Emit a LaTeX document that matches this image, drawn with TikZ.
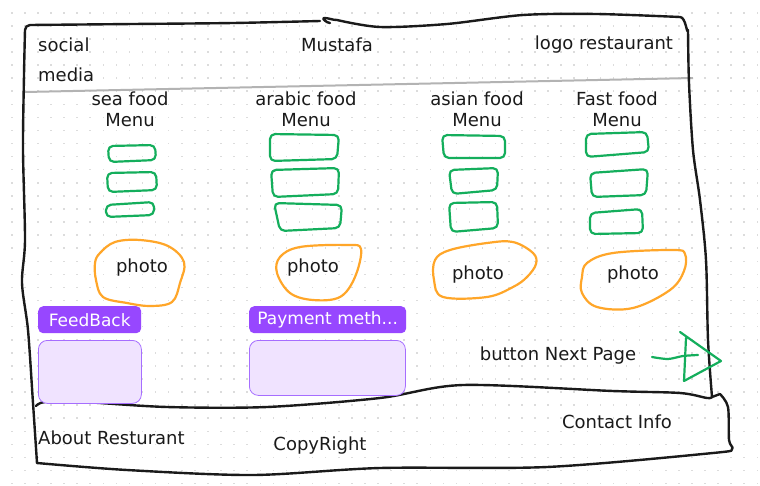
\documentclass[tikz,border=0pt]{standalone}
\usepackage{fontspec}
\setmainfont{DejaVu Sans}
\begin{document}
\begin{tikzpicture}[x=1pt,y=-1pt,
  ink/.style={draw=inkc, line width=2.4pt, line cap=round, line join=round},
  sep/.style={draw=sepc, line width=2pt},
  grn/.style={draw=grnc, line width=2.2pt, line cap=round, line join=round, rounded corners=5pt},
  org/.style={draw=orgc, line width=2.2pt, line cap=round, line join=round},
  lbl/.style={text=inkc, font=\fontsize{18}{21}\selectfont, inner sep=0pt, align=center},
  tag/.style={fill=tagc, rounded corners=5pt, text=white, font=\fontsize{17}{20}\selectfont, inner sep=0pt, minimum height=27pt, anchor=north west},
  pbox/.style={fill=boxc, draw=boxd, line width=0.8pt, rounded corners=9pt, inner sep=0pt, anchor=north west}
]
\definecolor{inkc}{HTML}{1A1A1A}
\definecolor{sepc}{HTML}{B3B3B3}
\definecolor{grnc}{HTML}{14AE5C}
\definecolor{orgc}{HTML}{FFA629}
\definecolor{tagc}{HTML}{9747FF}
\definecolor{boxc}{HTML}{F0E3FF}
\definecolor{boxd}{HTML}{A66EFF}
\definecolor{dotc}{HTML}{DCDCDC}
\useasboundingbox (0,0) rectangle (760,485);
\fill[white] (0,0) rectangle (760,485);
% dot grid
\foreach \i in {0,...,57}{
  \foreach \j in {0,...,36}{
    \fill[dotc] ({11+13.08*\i},{12+13.08*\j}) rectangle ++(1.5,1.5);
  }
}
% header separator
\draw[sep] (25,92) -- (693,78);
% main frame
\draw[ink] plot[smooth, tension=0.5] coordinates {
  (712,397) (708,340) (706,260) (700,200) (693,150) (689,83) (688,30)}
  to[out=-100,in=0] (680,17)
  plot[smooth, tension=0.5] coordinates {(680,17) (597,14) (523,15) (447,24) (380,27) (337,20)}
  to[out=180,in=0] (324,18) to[out=180,in=180] (330,23)
  plot[smooth, tension=0.5] coordinates {(320,21) (233,23) (133,24) (30,25)}
  to[out=180,in=90] (25,30)
  plot[smooth, tension=0.5] coordinates {(25,30) (24,75) (23,150) (25,240) (22,283) (28,330) (33,403) (37,463)};
% footer
\draw[ink] plot[smooth, tension=0.5] coordinates {
  (36,406) (45,402) (83,402) (167,407) (267,407) (380,398) (463,385) (613,391) (680,393) (707,398) (712,397)}
  -- (720,394)
  plot[smooth, tension=0.5] coordinates {(720,394) (728,407) (729,440) (732,449) (713,453) (547,467) (380,468) (253,475) (127,470) (37,463)};
% header texts
\node[lbl, anchor=west] (social) at (38,45) {social};
\node[lbl, anchor=west] (media) at (38,75) {media};
\node[lbl] (mustafa) at (337,45) {Mustafa};
\node[lbl] (logo) at (604,45) {logo restaurant};
% menu titles
\node[lbl] (m1) at (130,109) {sea food\\Menu};
\node[lbl] (m2) at (306,109) {arabic food\\Menu};
\node[lbl] (m3) at (477,109) {asian food\\Menu};
\node[lbl] (m4) at (617,109) {Fast food\\Menu};
% green items
\draw[grn] (108,146) -- (155,145) -- (156,160) -- (109,162) -- cycle;
\draw[grn] (107,173) -- (156,172) -- (157,190) -- (108,192) -- cycle;
\draw[grn] (106,205) -- (154,202) -- (154,215) -- (106,217) -- cycle;
\draw[grn] (270,134) -- (339,135) -- (337,159) -- (270,161) -- cycle;
\draw[grn] (271,170) -- (339,168) -- (338,194) -- (273,197) -- cycle;
\draw[grn] (274,203) -- (342,205) -- (340,228) -- (280,231) -- cycle;
\draw[grn] (442,135) -- (505,136) -- (505,158) -- (444,158) -- cycle;
\draw[grn] (449,170) -- (498,168) -- (497,190) -- (452,194) -- cycle;
\draw[grn] (449,203) -- (497,202) -- (498,228) -- (451,232) -- cycle;
\draw[grn] (586,134) -- (647,132) -- (649,152) -- (586,157) -- cycle;
\draw[grn] (590,173) -- (648,169) -- (646,195) -- (592,197) -- cycle;
\draw[grn] (590,213) -- (642,209) -- (643,233) -- (590,234) -- cycle;
% photos
\draw[org] plot[smooth cycle, tension=0.6] coordinates {(100,253) (115,242) (140,240) (168,246) (184,262) (180,283) (172,302) (150,306) (127,303) (103,297) (96,280) (95,263)};
\draw[org] plot[smooth cycle, tension=0.6] coordinates {(280,257) (300,247) (347,245) (361,249) (355,277) (340,297) (313,300) (290,293) (277,273)};
\draw[org] plot[smooth cycle, tension=0.6] coordinates {(435,260) (450,250) (487,243) (513,242) (533,253) (536,264) (527,277) (513,287) (487,297) (443,297) (434,280)};
\draw[org] plot[smooth cycle, tension=0.6] coordinates {(587,263) (613,253) (673,250) (685,254) (684,271) (670,290) (633,308) (597,307) (582,293) (582,277)};
\node[lbl] (p1) at (142,268) {photo};
\node[lbl] (p2) at (313,268) {photo};
\node[lbl] (p3) at (478,275) {photo};
\node[lbl] (p4) at (633,275) {photo};
% purple tags and boxes
\node[tag, minimum width=103pt] (fb) at (38,306) {FeedBack};
\node[pbox, minimum width=103pt, minimum height=63pt] (fbbox) at (38,340) {};
\node[tag, minimum width=157pt] (pm) at (249,306) {Payment meth...};
\node[pbox, minimum width=156pt, minimum height=55pt] (pmbox) at (249,340) {};
% next page button
\node[lbl] (next) at (558,356) {button Next Page};
\draw[draw=grnc, line width=2.2pt, line cap=round, line join=round]
  plot[smooth, tension=0.5] coordinates {(652,357) (668,359) (683,356) (698,355)};
\draw[draw=grnc, line width=2.2pt, line cap=round, line join=round]
  (680,332) -- (721,361) -- (684,381) -- (686,338);
% footer texts
\node[lbl, anchor=west] (about) at (38,438) {About Resturant};
\node[lbl] (copy) at (320,446) {CopyRight};
\node[lbl] (contact) at (617,422) {Contact Info};
\end{tikzpicture}
\end{document}
